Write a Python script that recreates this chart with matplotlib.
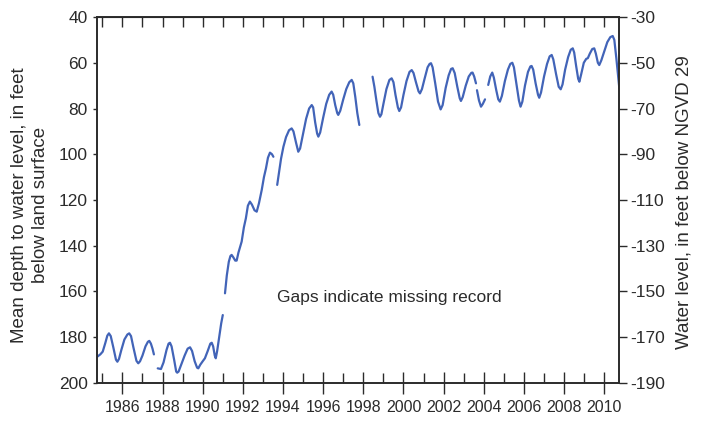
import matplotlib
matplotlib.use("Agg")
import matplotlib.pyplot as plt
from matplotlib.ticker import MultipleLocator

plt.rcParams['font.family'] = ['Liberation Sans', 'DejaVu Sans']
plt.rcParams['axes.unicode_minus'] = False

# readings off the hydrograph: (decimal year, depth to water in feet); gaps = missing record
seg1_yr = [1984.75, 1984.9, 1985.02, 1985.15, 1985.25, 1985.33, 1985.42, 1985.55, 1985.68, 1985.75,
           1985.83, 1985.95, 1986.1, 1986.25, 1986.34, 1986.43, 1986.55, 1986.7, 1986.79, 1986.88,
           1987.0, 1987.15, 1987.27, 1987.34, 1987.42, 1987.5, 1987.57]
seg1_d = [188.5, 187.5, 186.3, 182.5, 179.3, 178.3, 179.5, 184.5, 189.8, 190.7,
          189.5, 185.5, 181, 178.8, 178.3, 179.5, 184.5, 190.3, 191.4, 190.5,
          188, 184, 182, 181.6, 182.8, 185, 187.5]

seg2_yr = [1987.76, 1987.92, 1988.05, 1988.2, 1988.3, 1988.37, 1988.45, 1988.58, 1988.68, 1988.73,
           1988.8, 1988.95, 1989.1, 1989.25, 1989.37, 1989.47, 1989.6, 1989.72, 1989.78, 1989.88,
           1990.0, 1990.11, 1990.25, 1990.38, 1990.45, 1990.52, 1990.6, 1990.65, 1990.72, 1990.82,
           1990.92, 1991.0]
seg2_d = [193.6, 193.9, 191, 185.5, 182.8, 182.4, 184, 190, 195, 195.5,
          195, 191.5, 188, 185, 184.4, 186, 190.5, 193.3, 193.6, 192,
          190.5, 189.2, 186, 182.8, 182.4, 184, 188, 189.2, 186, 180,
          174, 170.3]

seg3_yr = [1991.11, 1991.2, 1991.3, 1991.38, 1991.44, 1991.52, 1991.62, 1991.69, 1991.78, 1991.94,
           1992.05, 1992.15, 1992.25, 1992.35, 1992.45, 1992.58, 1992.69, 1992.8, 1992.94, 1993.05,
           1993.15, 1993.25, 1993.35, 1993.45, 1993.52]
seg3_d = [160.8, 153, 147, 144.5, 144, 145, 146.5, 146.5, 143, 138.2,
          132, 128, 122.5, 120.7, 122, 124.5, 125.1, 121.5, 115.6, 110,
          106.2, 101.5, 99.3, 100, 101.1]

seg4_yr = [1993.71, 1993.8, 1993.9, 1994.02, 1994.15, 1994.3, 1994.43, 1994.52, 1994.65, 1994.76,
           1994.85, 1995.0, 1995.15, 1995.3, 1995.43, 1995.5, 1995.6, 1995.7, 1995.76, 1995.85,
           1996.0, 1996.15, 1996.3, 1996.42, 1996.5, 1996.6, 1996.7, 1996.75, 1996.85, 1997.0,
           1997.15, 1997.3, 1997.42, 1997.5, 1997.6, 1997.7, 1997.8]
seg4_d = [113.4, 108, 102, 96.7, 92.5, 89.5, 88.7, 90, 95, 98.9,
          97.5, 91, 84.5, 80, 78.5, 79.5, 86, 91, 92.3, 90.5,
          84, 78, 74, 72.6, 74, 78.5, 82, 82.8, 81, 76,
          71.5, 68.5, 67.5, 69, 75, 82, 87.2]

seg5_yr = [1998.46, 1998.55, 1998.65, 1998.75, 1998.83, 1998.9, 1999.0, 1999.15, 1999.3, 1999.41,
           1999.5, 1999.6, 1999.72, 1999.79, 1999.88, 2000.0, 2000.15, 2000.3, 2000.41, 2000.5,
           2000.62, 2000.75, 2000.82, 2000.92, 2001.05, 2001.2, 2001.3, 2001.37, 2001.45, 2001.58,
           2001.72, 2001.85, 2001.95, 2002.1, 2002.25, 2002.37, 2002.45, 2002.55, 2002.68, 2002.8,
           2002.86, 2002.95, 2003.1, 2003.25, 2003.38, 2003.44, 2003.52, 2003.61]
seg5_d = [66.1, 70.5, 76.5, 82, 83.6, 82.5, 78, 71.5, 67.5, 66.8,
          68.5, 74, 79.5, 81.1, 79.5, 74, 68, 64, 63.2, 64.5,
          68.5, 72.5, 73.4, 71.5, 67, 62, 60.5, 60.2, 62, 69,
          77, 80.4, 78.5, 71, 65.5, 62.7, 62.4, 64.5, 70.5, 75.5,
          76.7, 75, 70, 66, 64.4, 64.3, 66, 69]

seg6_yr = [2003.66, 2003.76, 2003.86, 2003.95, 2004.06]
seg6_d = [72, 76.5, 79.2, 78, 76]

seg7_yr = [2004.22, 2004.32, 2004.42, 2004.5, 2004.62, 2004.72, 2004.8, 2004.9, 2005.05, 2005.2,
           2005.32, 2005.42, 2005.5, 2005.62, 2005.75, 2005.83, 2005.92, 2006.05, 2006.2, 2006.32,
           2006.38, 2006.46, 2006.58, 2006.7, 2006.76, 2006.85, 2007.0, 2007.15, 2007.28, 2007.38,
           2007.46, 2007.6, 2007.73, 2007.83, 2007.92, 2008.05, 2008.2, 2008.33, 2008.43, 2008.5,
           2008.6, 2008.7, 2008.76, 2008.85, 2008.98, 2009.1, 2009.18, 2009.28, 2009.4, 2009.5,
           2009.58, 2009.68, 2009.75, 2009.85, 2010.0, 2010.15, 2010.3, 2010.42, 2010.5, 2010.6,
           2010.68, 2010.75]
seg7_d = [69.7, 66, 64.3, 66.5, 72, 76, 77, 74.5, 68, 63,
          60.5, 60, 62, 69, 76.5, 79.2, 77, 70, 64, 61.6,
          61.4, 63, 69, 74, 75.3, 73, 66, 60.5, 57.2, 56.6,
          58.5, 65, 70.5, 71.6, 69.5, 63, 57.5, 54.3, 53.7, 55.5,
          61.5, 67, 68.3, 65, 60, 58.3, 58, 56, 54, 53.7,
          56, 60, 61, 59, 55, 51, 48.8, 48.3, 50, 58,
          65, 71.2]

segments = [(seg1_yr, seg1_d), (seg2_yr, seg2_d), (seg3_yr, seg3_d), (seg4_yr, seg4_d),
            (seg5_yr, seg5_d), (seg6_yr, seg6_d), (seg7_yr, seg7_d)]

year_ticks = list(range(1986, 2011, 2))
depth_ticks = list(range(40, 201, 20))
level_ticks = list(range(-30, -191, -20))

ink = '#2b2b2b'
blue = '#4264b8'

fig = plt.figure(figsize=(7.05, 4.21), dpi=100)
ax = fig.add_axes([0.138, 0.0903, 0.7405, 0.8693])

for yr, d in segments:
    ax.plot(yr, d, color=blue, lw=1.6, solid_joinstyle='round', solid_capstyle='round')

ax.set_xlim(1984.75, 2010.75)
ax.set_ylim(200, 40)
ax.set_xticks(year_ticks)
ax.set_xticklabels([str(y) for y in year_ticks])
ax.xaxis.set_minor_locator(MultipleLocator(1))
ax.set_yticks(depth_ticks)

ax.tick_params(axis='x', which='major', direction='inout', length=16, width=1, colors=ink,
               labelsize=11.5, pad=4)
ax.tick_params(axis='x', which='minor', direction='in', length=7, width=1, colors=ink)
ax.tick_params(axis='y', which='major', direction='out', length=3, width=1, colors=ink,
               labelsize=12.5, pad=4)
for s in ax.spines.values():
    s.set_color(ink)
    s.set_linewidth(1.2)

top = ax.secondary_xaxis('top')
top.xaxis.set_major_locator(MultipleLocator(1))
top.tick_params(axis='x', direction='in', length=7, width=1, colors=ink, labeltop=False)

ax2 = ax.twinx()
ax2.set_ylim(-190, -30)
ax2.set_yticks(level_ticks)
ax2.tick_params(axis='y', direction='out', length=6, width=1, colors=ink, labelsize=12.5, pad=2)
for s in ax2.spines.values():
    s.set_color(ink)
    s.set_linewidth(1.2)

ax.text(1999.3, 162.8, 'Gaps indicate missing record', ha='center', va='center',
        fontsize=12.5, color=ink)

fig.text(30 / 705, 1 - 205 / 421, 'Mean depth to water level, in feet\nbelow land surface',
         rotation=90, ha='center', va='center', fontsize=13.5, color=ink, linespacing=1.3)
fig.text(684 / 705, 1 - 202 / 421, 'Water level, in feet below NGVD 29',
         rotation=90, ha='center', va='center', fontsize=13.5, color=ink)

fig.savefig('out.png', dpi=100)
